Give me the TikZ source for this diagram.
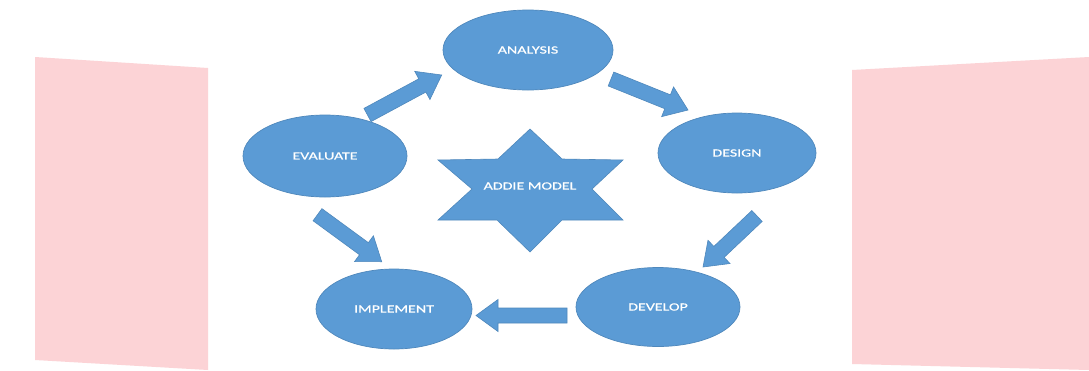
\documentclass[tikz,border=0pt]{standalone}
\usepackage{fontspec}
\newfontfamily\labfont{Carlito}[FakeStretch=1.45,FakeBold=0.6]
\usetikzlibrary{shapes.geometric,calc}
\definecolor{pinkbg}{HTML}{FCD3D6}
\definecolor{bluefill}{HTML}{5B9BD5}
\definecolor{blueline}{HTML}{4F88BC}
\tikzset{
  phase/.style={ellipse, fill=bluefill, draw=blueline, line width=0.7pt, inner sep=0pt,
    text=white, font=\labfont\fontsize{11}{13}\selectfont},
  blockfill/.style={fill=bluefill, draw=blueline, line width=0.6pt, line join=miter},
  starlabel/.style={text=white, font=\labfont\fontsize{11}{13}\selectfont, inner sep=0pt}
}
\newcommand{\blockarr}[2]{%
  \coordinate (bh) at ($(#2)!22pt!(#1)$);
  \path[blockfill] ($(#1)!7.5pt!90:(#2)$) -- ($(bh)!7.5pt!-90:(#1)$) -- ($(bh)!16pt!-90:(#1)$)
    -- (#2) -- ($(bh)!16pt!90:(#1)$) -- ($(bh)!7.5pt!90:(#1)$) -- ($(#1)!7.5pt!-90:(#2)$) -- cycle;}
\begin{document}
\begin{tikzpicture}[x=1pt,y=-1pt]
\useasboundingbox (0,0) rectangle (1089,370);
\fill[white] (0,0) rectangle (1089,370);
% pink side panels
\fill[pinkbg] (35,57) -- (208,68) -- (208,370) -- (35,360) -- cycle;
\fill[pinkbg] (852,70) -- (1089,57) -- (1089,370) -- (852,364) -- cycle;
% phases
\node[phase, minimum width=170pt, minimum height=80pt] (analysis) at (528,50) {ANALYSIS};
\node[phase, minimum width=158pt, minimum height=80pt] (design) at (737,153) {DESIGN};
\node[phase, minimum width=164pt, minimum height=79pt] (develop) at (658,307) {DEVELOP};
\node[phase, minimum width=156pt, minimum height=80pt] (implement) at (394,309) {IMPLEMENT};
\node[phase, minimum width=164pt, minimum height=82pt] (evaluate) at (325,156) {EVALUATE};
% star
\path[blockfill] (530,129) -- (562,159) -- (623,160) -- (592,189) -- (623,220) -- (562,220)
  -- (530,252) -- (497,220) -- (438,220) -- (472,189) -- (438,160) -- (498,159) -- cycle;
\node[starlabel] (addie) at (530,186) {ADDIE MODEL};
% block arrows
\coordinate (e2a) at (367.5,115); \coordinate (e2aT) at (441.7,75);
\coordinate (a2d) at (611,79);    \coordinate (a2dT) at (688,110);
\coordinate (d2v) at (757,216);   \coordinate (d2vT) at (703,267);
\coordinate (v2i) at (567,315.5); \coordinate (v2iT) at (476,315.5);
\coordinate (e2i) at (317.5,214.7); \coordinate (e2iT) at (381.7,261.7);
\blockarr{e2a}{e2aT}
\blockarr{a2d}{a2dT}
\blockarr{d2v}{d2vT}
\blockarr{v2i}{v2iT}
\blockarr{e2i}{e2iT}
\end{tikzpicture}
\end{document}
